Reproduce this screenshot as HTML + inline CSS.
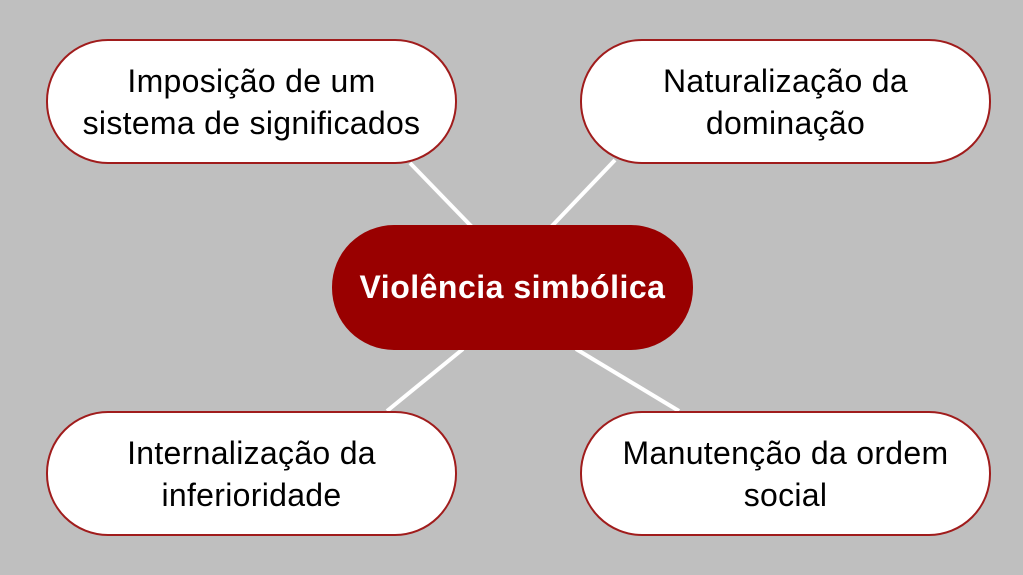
<!DOCTYPE html>
<html><head><meta charset="utf-8"><style>
html,body{margin:0;padding:0}
body{width:1023px;height:575px;background:#bfbfbf;position:relative;overflow:hidden;font-family:"Liberation Sans",sans-serif}
.n{position:absolute;box-sizing:border-box;width:411px;height:125px;border:2px solid #a01c1c;border-radius:62px;background:#fff;display:flex;align-items:center;justify-content:center;text-align:center;font-size:32px;line-height:42px;color:#000;letter-spacing:0.3px}
.c{position:absolute;left:332px;top:225px;width:361px;height:125px;border-radius:62px;background:#990000;color:#fff;font-weight:bold;font-size:32px;letter-spacing:0.5px;display:flex;align-items:center;justify-content:center}
svg{position:absolute;left:0;top:0}
</style></head><body>
<svg width="1023" height="575"><g stroke="#fff" stroke-width="4">
<line x1="410" y1="163" x2="472" y2="227"/>
<line x1="615" y1="160" x2="551" y2="227"/>
<line x1="463" y1="349" x2="387" y2="411"/>
<line x1="576" y1="349" x2="679" y2="411"/>
</g></svg>
<div class="n" style="left:46px;top:39px">Imposição de um<br>sistema de significados</div>
<div class="n" style="left:580px;top:39px">Naturalização da<br>dominação</div>
<div class="n" style="left:46px;top:411px">Internalização da<br>inferioridade</div>
<div class="n" style="left:580px;top:411px">Manutenção da ordem<br>social</div>
<div class="c">Violência simbólica</div>
</body></html>
